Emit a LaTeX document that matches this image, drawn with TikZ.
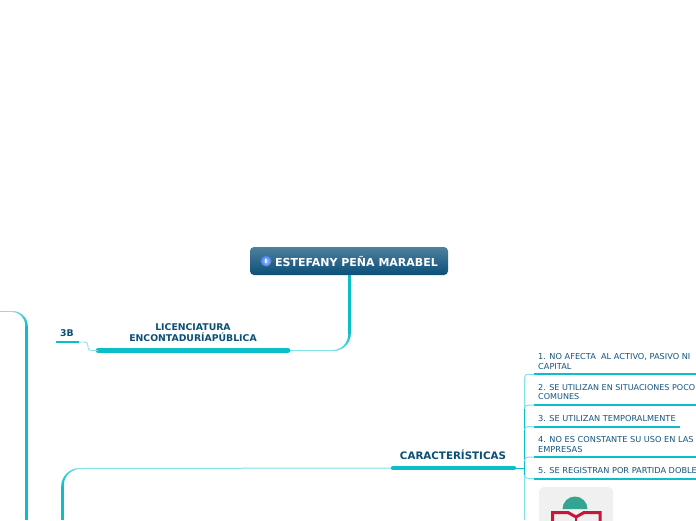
\documentclass[tikz,border=0pt]{standalone}
\usepackage{fontspec}
\setmainfont{DejaVu Sans}
\definecolor{tealc}{HTML}{0BBFC9}
\definecolor{lightc}{HTML}{7FE3E8}
\definecolor{navy}{HTML}{0B4F78}
\definecolor{subt}{HTML}{15557F}
\definecolor{bookred}{HTML}{C8173A}
\definecolor{bookteal}{HTML}{35A593}
\definecolor{infoblue}{HTML}{3F7FE8}
\tikzset{
  x=1pt,y=-1pt,
  thickbar/.style={draw=tealc,line width=4.5pt,line cap=round},
  medbar/.style={draw=tealc,line width=2pt},
  branch/.style={draw=lightc,line width=1pt},
  trunk/.style={draw=tealc,line width=2.4pt},
  lab/.style={inner sep=0pt,text=navy,font=\bfseries\fontsize{9.3}{10.8}\selectfont,align=center},
  sublab/.style={inner sep=0pt,text=subt,font=\fontsize{8.2}{9.7}\selectfont,align=left,anchor=south west},
}
% tapered quarter arc: centre x, centre y, radius, start angle, end angle (y axis points down)
\newcommand{\taperarc}[5]{%
  \foreach \i in {1,...,12}{%
    \pgfmathsetmacro{\aa}{#4+(#5-#4)*(\i-1)/12}%
    \pgfmathsetmacro{\ab}{#4+(#5-#4)*\i/12}%
    \pgfmathsetmacro{\lw}{2.4-1.4*(\i-1)/11}%
    \pgfmathsetmacro{\mixv}{100-100*(\i-1)/11}%
    \draw[draw=tealc!\mixv!lightc,line width=\lw pt,line cap=round]
      ({#1+#3*cos(\aa)},{#2+#3*sin(\aa)}) -- ({#1+#3*cos(\ab)},{#2+#3*sin(\ab)});
  }%
}
\begin{document}
\begin{tikzpicture}
\useasboundingbox (0,0) rectangle (696,520);
\fill[white] (0,0) rectangle (696,520);
\clip (0,0) rectangle (696,520);
% root
\node[draw=none,rounded corners=4pt,minimum width=198pt,minimum height=28pt,top color=navy!72!white,bottom color=navy,inner sep=0pt] (root) at (349,261) {};
% root connector
\coordinate (rootdown) at (349.5,334);
\draw[trunk] (root.south -| rootdown) -- (rootdown);
\taperarc{333}{334}{16.5}{0}{90}
% licenciatura
\node[lab] (lic) at (193,332.5) {LICENCIATURA\hspace{4pt}\\ENCONTADURÍAPÚBLICA};
\coordinate (licL) at (98,350.5);
\coordinate (licR) at (288,350.5);
\draw[branch] (333,350.5) -- (licR);
\draw[thickbar] (licL) -- (licR);
\shade[inner color=infoblue!45!white,outer color=infoblue] (266,261) circle (5.5);
\node[inner sep=0pt,text=white,font=\bfseries\fontsize{8}{8}\selectfont] (info) at (266,261) {ı};
\node[inner sep=0pt,text=white,anchor=west,font=\bfseries\fontsize{11}{12}\selectfont] (rootlab) at (275,261) {ESTEFANY PEÑA MARABEL};
% 3B
\node[lab] (tb) at (67,333) {3B};
\coordinate (tbL) at (56,342);
\coordinate (tbR) at (79,342);
\draw[medbar] (tbL) -- (tbR);
\draw[branch,line width=.8pt] (tbR) -- (84,342) .. controls (87,342) and (88,343) .. (88,346) -- (88,347.5) .. controls (88,350) and (89,350.5) .. (92,350.5) -- (licL);
% left trunk
\draw[branch] (0,311.5) -- (12,311.5);
\taperarc{12}{326}{14.5}{0}{-90}
\draw[trunk] (26.5,326) -- (26.5,520);
% caracteristicas
\node[lab,font=\bfseries\fontsize{10.3}{12}\selectfont] (car) at (453,455) {CARACTERÍSTICAS};
\coordinate (carL) at (393,468);
\coordinate (carR) at (514,468);
\draw[branch] (carL) -- (80,468.5);
\draw[thickbar] (carL) -- (carR);
\taperarc{80}{486}{17.5}{180}{270}
\draw[trunk] (62.5,486) -- (62.5,520);
\draw[draw=tealc,line width=1pt] (carR) -- (524.5,468);
% right spine
\draw[branch] (529,374) .. controls (526,374) and (524.5,375.5) .. (524.5,378) -- (524.5,520);
\draw[draw=tealc,line width=1pt] (524.5,408) -- (524.5,476);
% items
\foreach \yy/\xe in {374/696,405/696,426.5/680,457/696,478.5/696}{
  \draw[medbar] (534,\yy) -- (\xe,\yy);
}
\draw[branch] (524.5,409) .. controls (524.5,406) and (526,405) .. (529,405) -- (534,405);
\draw[branch] (524.5,430) .. controls (524.5,427.5) and (526,426.5) .. (529,426.5) -- (534,426.5);
\draw[branch] (524.5,461) .. controls (524.5,458) and (526,457) .. (529,457) -- (534,457);
\draw[branch] (524.5,475) .. controls (524.5,477.5) and (526,478.5) .. (529,478.5) -- (534,478.5);
\draw[branch] (529,374) -- (534,374);
\node[sublab] (i1) at (538,369.7) {1. NO AFECTA\ \ AL ACTIVO, PASIVO NI\\CAPITAL};
\node[sublab,font=\fontsize{8.05}{9.7}\selectfont] (i2) at (538,400.2) {2. SE UTILIZAN EN SITUACIONES POCO\\COMUNES};
\node[sublab] (i3) at (538,422) {3. SE UTILIZAN TEMPORALMENTE};
\node[sublab] (i4) at (538,453) {4. NO ES CONSTANTE SU USO EN LAS\\EMPRESAS};
\node[sublab] (i5) at (538,474) {5. SE REGISTRAN POR PARTIDA DOBLE};
% image
\fill[rounded corners=5pt,fill=black!6] (539,487) rectangle (613,530);
\fill[bookteal] (562.5,509) arc (180:360:12.5) -- cycle;
\draw[draw=bookred,line width=3pt] (552.5,522) -- (552.5,512.5) -- (568,512.5) -- (576,517) -- (584,512.5) -- (600,512.5) -- (600,522);
\draw[draw=bookred,line width=2pt] (576,517) -- (576,522);
\end{tikzpicture}
\end{document}
